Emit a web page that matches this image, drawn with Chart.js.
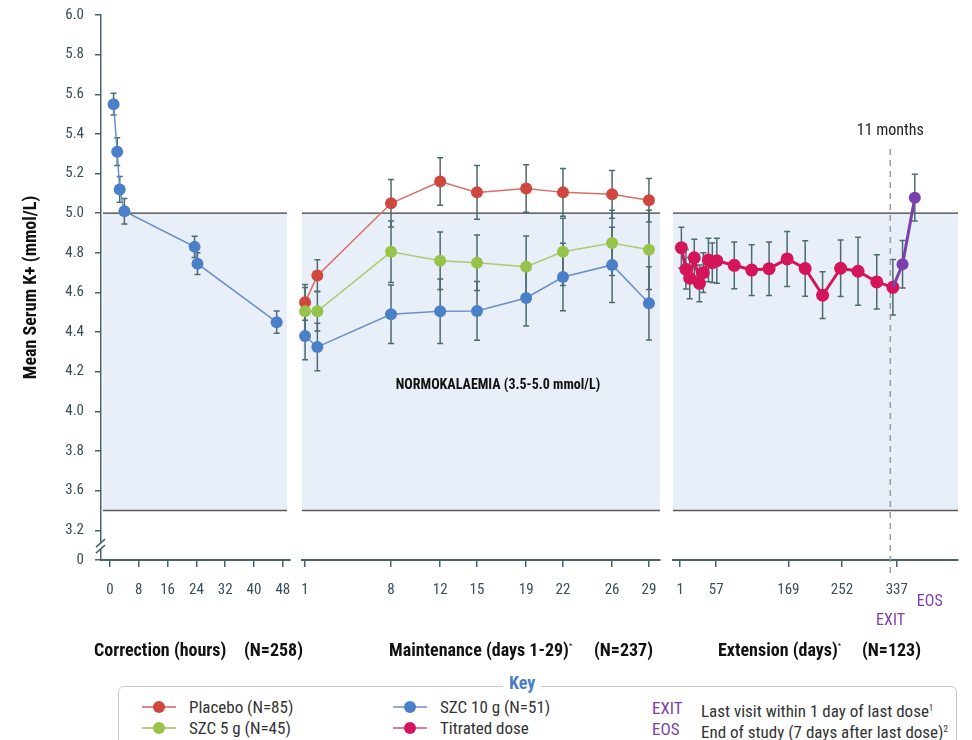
<!DOCTYPE html>
<html>
<head>
<meta charset="utf-8">
<script src="https://cdn.jsdelivr.net/npm/chart.js@4.4.1/dist/chart.umd.min.js"></script>
<style>
  body { margin: 0; background: #fff; width: 972px; height: 740px; overflow: hidden; position: relative;
         font-family: 'Roboto Condensed', 'Liberation Sans Narrow', 'DejaVu Sans Condensed', Roboto, sans-serif; }
  canvas { position: absolute; top: 0; }
  .sec { position: absolute; top: 639px; font-weight: bold; font-size: 18px; color: #111; white-space: nowrap; }
  .sec sup { font-size: 8px; font-weight: normal; vertical-align: 8px; }
  #key { position: absolute; left: 118px; top: 686px; width: 837px; height: 80px; border: 1px solid #c9c9c9; border-radius: 6px; }
  #keyTitle { position: absolute; left: 503px; top: 672px; padding: 0 6px; background: #fff; color: #4a7fc8; font-weight: bold; font-size: 18px; }
  .item { position: absolute; font-size: 17px; color: #333; white-space: nowrap; line-height: 20px; }
  .mk { position: absolute; width: 34px; height: 12px; }
  .mk i { position: absolute; left: 0; top: 5px; width: 34px; height: 1.5px; }
  .mk b { position: absolute; left: 11px; top: 0; width: 12px; height: 12px; border-radius: 50%; }
  .tag { color: #7b3fae; font-size: 17px; }
  .item sup { font-size: 9px; vertical-align: 6px; }
</style>
</head>
<body>
<canvas id="correction_chart" width="296" height="640" style="left:0"></canvas>
<canvas id="maintenance_chart" width="370" height="640" style="left:296px"></canvas>
<canvas id="extension_chart" width="306" height="640" style="left:666px"></canvas>

<div class="sec" style="left:94px">Correction (hours)</div>
<div class="sec" style="left:244px">(N=258)</div>
<div class="sec" style="left:389px">Maintenance (days 1-29)<sup>*</sup></div>
<div class="sec" style="left:594px">(N=237)</div>
<div class="sec" style="left:718px">Extension (days)<sup>*</sup></div>
<div class="sec" style="left:862px">(N=123)</div>

<div id="key"></div>
<div id="keyTitle">Key</div>

<div class="mk" style="left:142px;top:701px"><i style="background:#e08a85"></i><b style="background:#d0473f"></b></div>
<div class="item" style="left:189px;top:697px">Placebo (N=85)</div>
<div class="mk" style="left:142px;top:722px"><i style="background:#b5d07c"></i><b style="background:#98c34a"></b></div>
<div class="item" style="left:189px;top:718px">SZC 5 g (N=45)</div>
<div class="mk" style="left:393px;top:701px"><i style="background:#8eaad5"></i><b style="background:#4a80c8"></b></div>
<div class="item" style="left:440px;top:697px">SZC 10 g (N=51)</div>
<div class="mk" style="left:393px;top:722px"><i style="background:#e07a9c"></i><b style="background:#d5155b"></b></div>
<div class="item" style="left:440px;top:718px">Titrated dose</div>
<div class="item tag" style="left:652px;top:698px">EXIT</div>
<div class="item" style="left:701px;top:698px">Last visit within 1 day of last dose<sup>1</sup></div>
<div class="item tag" style="left:652px;top:719px">EOS</div>
<div class="item" style="left:701px;top:719px">End of study (7 days after last dose)<sup>2</sup></div>

<script>
const FONT = "'Roboto Condensed','Liberation Sans Narrow','DejaVu Sans Condensed',Roboto,sans-serif";
const axisColor = '#49626c';
const tickColor = '#3a4f59';

// y axis (broken below 3.6)
const yTickValues = [3.25, 3.4, 3.6, 3.8, 4.0, 4.2, 4.4, 4.6, 4.8, 5.0, 5.2, 5.4, 5.6, 5.8, 6.0];
const yTickLabels = ['0', '3.2', '3.6', '3.8', '4.0', '4.2', '4.4', '4.6', '4.8', '5.0', '5.2', '5.4', '5.6', '5.8', '6.0'];
const normalLow = 3.5;
const normalHigh = 5.0;

// correction phase (hours)
const correctionTicks = [0, 8, 16, 24, 32, 40, 48];
const correctionHours = [1, 2, 2.7, 4, 23.5, 24.3, 46.3];
const correctionK = [5.55, 5.31, 5.12, 5.01, 4.83, 4.745, 4.45];
const correctionErr = [0.055, 0.07, 0.065, 0.064, 0.053, 0.055, 0.056];

// maintenance phase (days)
const maintenanceTicks = [1, 8, 12, 15, 19, 22, 26, 29];
const maintenanceDays = [1, 2, 8, 12, 15, 19, 22, 26, 29];
const placeboK = [4.55, 4.685, 5.05, 5.16, 5.105, 5.125, 5.105, 5.095, 5.065];
const placeboErr = [0.09, 0.08, 0.12, 0.12, 0.135, 0.12, 0.12, 0.12, 0.11];
const szc5K = [4.505, 4.505, 4.805, 4.76, 4.75, 4.73, 4.805, 4.85, 4.815];
const szc5Err = [0.12, 0.1, 0.155, 0.145, 0.14, 0.155, 0.17, 0.165, 0.2];
const szc10K = [4.38, 4.325, 4.49, 4.505, 4.507, 4.572, 4.678, 4.739, 4.545];
const szc10Err = [0.12, 0.12, 0.148, 0.163, 0.148, 0.141, 0.17, 0.19, 0.185];

// extension phase (days)
const extensionTicks = [1, 57, 169, 252, 337];
const extensionDays = [3, 10, 16, 23, 31, 37, 45, 51, 58, 85, 112, 139, 167, 195, 222, 250, 277, 306, 331];
const titratedK = [4.826, 4.717, 4.672, 4.775, 4.646, 4.70, 4.764, 4.75, 4.76, 4.737, 4.713, 4.72, 4.769, 4.721, 4.586, 4.722, 4.707, 4.653, 4.626];
const titratedErr = [0.103, 0.1, 0.104, 0.093, 0.093, 0.1, 0.11, 0.1, 0.113, 0.118, 0.128, 0.135, 0.139, 0.14, 0.118, 0.143, 0.172, 0.137, 0.14];
const exitEosDays = [346, 365];
const exitEosK = [4.742, 5.078];
const exitEosErr = [0.12, 0.118];
const exitEosLabels = ['EXIT', 'EOS'];
const elevenMonthsDay = 327;

function points(xs, ys) {
    return xs.map((x, i) => ({x: x, y: ys[i]}));
}

function series(xs, ys, errs, color, lineColor, width, radius) {
    return {
        data: points(xs, ys),
        errors: errs,
        showLine: true,
        borderColor: lineColor,
        borderWidth: width,
        pointRadius: radius,
        pointBackgroundColor: color,
        pointBorderWidth: 0,
        clip: false
    };
}

const errorBars = {
    id: 'errorBars',
    beforeDatasetsDraw(chart) {
        const ctx = chart.ctx;
        const ys = chart.scales.y;
        ctx.save();
        ctx.strokeStyle = '#4d6a72';
        ctx.lineWidth = 1.5;
        chart.data.datasets.forEach((ds, di) => {
            if (!ds.errors) return;
            chart.getDatasetMeta(di).data.forEach((pt, i) => {
                const e = ds.errors[i];
                if (!e) return;
                const v = ds.data[i].y;
                const top = ys.getPixelForValue(v + e);
                const bot = ys.getPixelForValue(v - e);
                ctx.beginPath();
                ctx.moveTo(pt.x, top); ctx.lineTo(pt.x, bot);
                ctx.moveTo(pt.x - 3, top); ctx.lineTo(pt.x + 3, top);
                ctx.moveTo(pt.x - 3, bot); ctx.lineTo(pt.x + 3, bot);
                ctx.stroke();
            });
        });
        ctx.restore();
    }
};

const normalBand = {
    id: 'normalBand',
    beforeDraw(chart, args, opts) {
        const {ctx, chartArea, scales: {y}} = chart;
        const l = chartArea.left + (opts.insetLeft || 0);
        const r = chartArea.right - (opts.insetRight || 0);
        const t = y.getPixelForValue(normalHigh);
        const b = y.getPixelForValue(normalLow);
        ctx.save();
        ctx.fillStyle = '#e9eff8';
        ctx.fillRect(l, t, r - l, b - t);
        ctx.strokeStyle = '#3c3c3c';
        ctx.lineWidth = 1.2;
        ctx.beginPath();
        ctx.moveTo(l, t); ctx.lineTo(r, t);
        ctx.stroke();
        ctx.strokeStyle = '#5a5a5a';
        ctx.lineWidth = 1.5;
        ctx.beginPath();
        ctx.moveTo(l, b); ctx.lineTo(r, b);
        ctx.stroke();
        ctx.restore();
    }
};

const axisBreak = {
    id: 'axisBreak',
    afterDraw(chart) {
        const {ctx, chartArea, scales: {y}} = chart;
        const x = chartArea.left;
        const yc = y.getPixelForValue(3.32);
        ctx.save();
        ctx.fillStyle = '#fff';
        ctx.fillRect(x - 2, yc - 3, 4, 6);
        ctx.strokeStyle = axisColor;
        ctx.lineWidth = 1.5;
        ctx.beginPath();
        ctx.moveTo(x - 5, yc + 1); ctx.lineTo(x + 4, yc - 7);
        ctx.moveTo(x - 5, yc + 7); ctx.lineTo(x + 4, yc - 1);
        ctx.stroke();
        ctx.restore();
    }
};

const bandLabel = {
    id: 'bandLabel',
    afterDraw(chart) {
        const {ctx, chartArea, scales: {y}} = chart;
        ctx.save();
        ctx.font = 'bold 14px ' + FONT;
        ctx.fillStyle = '#111';
        ctx.textAlign = 'center';
        ctx.textBaseline = 'middle';
        ctx.fillText('NORMOKALAEMIA (3.5-5.0 mmol/L)', (chartArea.left + chartArea.right) / 2 + 17, y.getPixelForValue(4.13));
        ctx.restore();
    }
};

const monthMarker = {
    id: 'monthMarker',
    beforeDatasetsDraw(chart) {
        const {ctx, chartArea, scales: {x}} = chart;
        const px = x.getPixelForValue(elevenMonthsDay);
        ctx.save();
        ctx.setLineDash([6, 5]);
        ctx.strokeStyle = '#9c9c9c';
        ctx.lineWidth = 1.5;
        ctx.beginPath();
        ctx.moveTo(px, chartArea.top + 134);
        ctx.lineTo(px, chartArea.bottom + 14);
        ctx.stroke();
        ctx.setLineDash([]);
        ctx.font = '16px ' + FONT;
        ctx.fillStyle = '#222';
        ctx.textAlign = 'center';
        ctx.textBaseline = 'middle';
        ctx.fillText('11 months', px, chartArea.top + 116);
        ctx.restore();
    },
    afterDraw(chart) {
        const {ctx, chartArea, scales: {x}} = chart;
        ctx.save();
        ctx.font = '16px ' + FONT;
        ctx.fillStyle = '#7b3fae';
        ctx.textAlign = 'center';
        ctx.textBaseline = 'middle';
        ctx.fillText(exitEosLabels[0], x.getPixelForValue(exitEosDays[0]) - 12, chartArea.bottom + 61);
        ctx.fillText(exitEosLabels[1], x.getPixelForValue(exitEosDays[1]) + 15, chartArea.bottom + 42);
        ctx.restore();
    }
};

function xAxis(min, max, tickValues) {
    return {
        type: 'linear',
        min: min,
        max: max,
        afterBuildTicks: s => { s.ticks = tickValues.map(v => ({value: v})); },
        afterFit: s => { s.height = 80; s.paddingLeft = 0; s.paddingRight = 0; },
        ticks: {font: {family: FONT, size: 15}, color: tickColor, padding: 14, maxRotation: 0, autoSkip: false},
        grid: {drawOnChartArea: false, drawTicks: true, tickLength: 7, color: axisColor, lineWidth: 1.5},
        border: {display: true, color: axisColor, width: 2}
    };
}

function baseOptions(xScale, yScale, padding, band) {
    return {
        responsive: false,
        animation: false,
        layout: {padding: padding},
        plugins: {legend: {display: false}, tooltip: {enabled: false}, normalBand: band},
        scales: {x: xScale, y: yScale}
    };
}

const hiddenY = {display: false, min: 3.25, max: 6.0};

// correction
new Chart(document.getElementById('correction_chart'), {
    type: 'scatter',
    data: {datasets: [series(correctionHours, correctionK, correctionErr, '#4a80c8', '#6a90c6', 1.5, 6)]},
    options: baseOptions(
        xAxis(-2.5, 50, correctionTicks),
        {
            min: 3.25,
            max: 6.0,
            afterBuildTicks: s => { s.ticks = yTickValues.map(v => ({value: v})); },
            afterFit: s => { s.width = 101; s.paddingTop = 0; s.paddingBottom = 0; },
            ticks: {callback: (v, i) => yTickLabels[i], font: {family: FONT, size: 15}, color: tickColor, padding: 11},
            grid: {drawOnChartArea: false, drawTicks: true, tickLength: 6, color: axisColor, lineWidth: 1.5},
            border: {display: true, color: axisColor, width: 1.5},
            title: {display: true, text: 'Mean Serum K+ (mmol/L)', color: '#111',
                    font: {family: FONT, size: 18, weight: 'bold'}, padding: {top: 21, bottom: 0}}
        },
        {top: 15, right: 6, left: 0, bottom: 0},
        {insetLeft: 2, insetRight: 3}
    ),
    plugins: [normalBand, errorBars, axisBreak]
});

// maintenance
new Chart(document.getElementById('maintenance_chart'), {
    type: 'scatter',
    data: {
        datasets: [
            series(maintenanceDays, szc10K, szc10Err, '#4a80c8', '#6a90c6', 1.5, 6),
            series(maintenanceDays, szc5K, szc5Err, '#98c34a', '#aacb70', 1.5, 6),
            series(maintenanceDays, placeboK, placeboErr, '#d0473f', '#dc6d66', 1.5, 6)
        ]
    },
    options: baseOptions(xAxis(0.75, 29.9, maintenanceTicks), hiddenY, {top: 15, right: 5, left: 5, bottom: 0}, {}),
    plugins: [normalBand, errorBars, bandLabel]
});

// extension
const lastDay = extensionDays[extensionDays.length - 1];
const lastK = titratedK[titratedK.length - 1];
const exitEos = series([lastDay].concat(exitEosDays), [lastK].concat(exitEosK), [0].concat(exitEosErr), '#7b3fae', '#7b3fae', 3, 6);
exitEos.pointRadius = [0, 6, 6];

new Chart(document.getElementById('extension_chart'), {
    type: 'scatter',
    data: {
        datasets: [
            exitEos,
            series(extensionDays, titratedK, titratedErr, '#d5155b', '#d5155b', 3, 6.5)
        ]
    },
    options: baseOptions(xAxis(-10, 432, extensionTicks), hiddenY, {top: 15, right: 14, left: 7, bottom: 0}, {}),
    plugins: [normalBand, errorBars, monthMarker]
});
</script>
</body>
</html>
